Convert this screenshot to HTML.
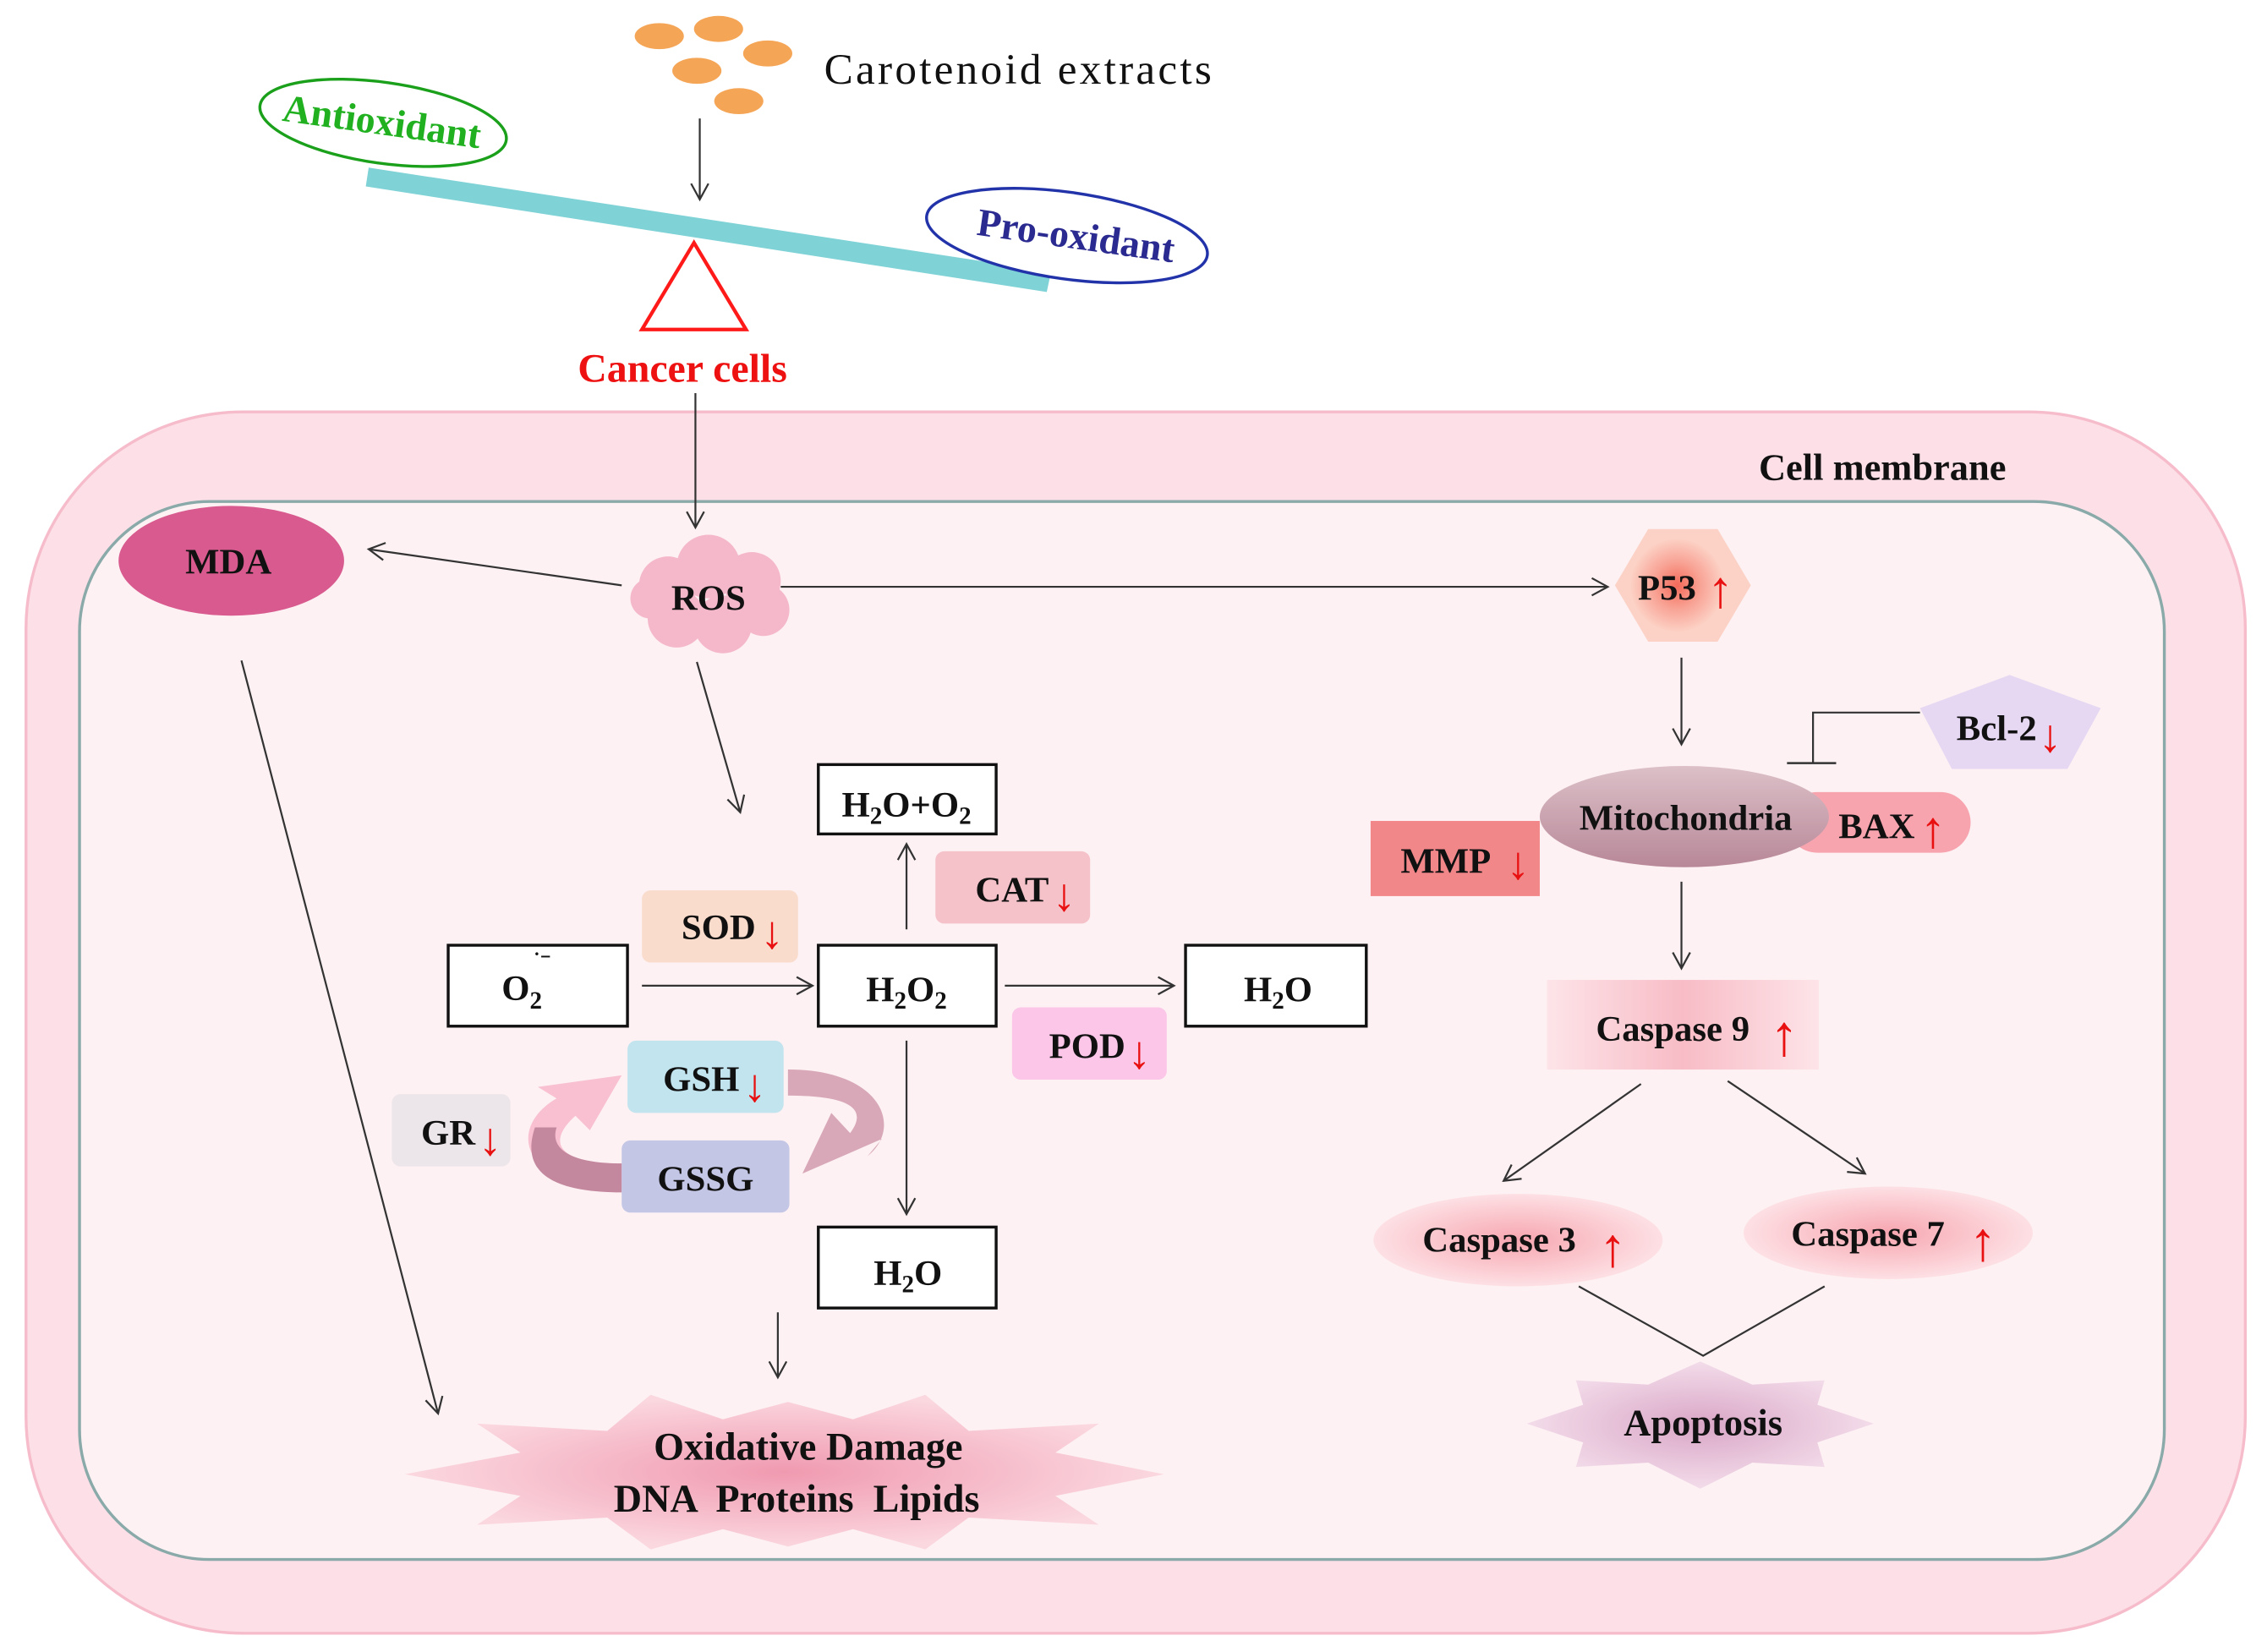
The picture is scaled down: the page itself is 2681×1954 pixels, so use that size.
<!DOCTYPE html>
<html><head><meta charset="utf-8"><style>
html,body{margin:0;padding:0;background:#fff}
svg{display:block}
text{font-family:"Liberation Serif",serif;font-weight:bold;fill:#111}
</style></head><body>
<svg width="2681" height="1954" viewBox="0 0 1568 1143" preserveAspectRatio="none" xmlns="http://www.w3.org/2000/svg">
<defs>
<marker id="a" markerWidth="14" markerHeight="14" refX="12" refY="7" orient="auto" markerUnits="userSpaceOnUse"><path d="M1,1 L12,7 L1,13" fill="none" stroke="#333" stroke-width="1.3"/></marker>
<radialGradient id="p53g"><stop offset="0" stop-color="#f36a5a"/><stop offset="0.5" stop-color="#f8a294"/><stop offset="1" stop-color="#fcd0c4"/></radialGradient>
<linearGradient id="mito" x1="0" y1="0" x2="0" y2="1"><stop offset="0" stop-color="#dcc0c8"/><stop offset="1" stop-color="#b88898"/></linearGradient>
<linearGradient id="c9" x1="0" y1="0" x2="1" y2="0"><stop offset="0" stop-color="#fde4e8"/><stop offset="0.5" stop-color="#f8bcc6"/><stop offset="1" stop-color="#fde4e8"/></linearGradient>
<radialGradient id="csp"><stop offset="0" stop-color="#f7a6b0"/><stop offset="1" stop-color="#fde0e4"/></radialGradient>
<radialGradient id="ox"><stop offset="0" stop-color="#f09ab0"/><stop offset="1" stop-color="#fbd8e0"/></radialGradient>
<radialGradient id="apo"><stop offset="0" stop-color="#d9a6c6"/><stop offset="1" stop-color="#f3dcea"/></radialGradient>
</defs>

<g fill="#f5a556">
<ellipse cx="456" cy="25" rx="17" ry="9"/><ellipse cx="497" cy="20" rx="17" ry="9"/><ellipse cx="531" cy="37" rx="17" ry="9"/>
<ellipse cx="482" cy="49" rx="17" ry="9"/><ellipse cx="511" cy="70" rx="17" ry="9"/>
</g>
<text x="570" y="58" font-size="30" style="font-weight:normal" textLength="268">Carotenoid extracts</text>
<line x1="484" y1="82" x2="484" y2="138" stroke="#333" stroke-width="1.3" marker-end="url(#a)"/>
<polygon points="255,116 727,188 724,202 253,129" fill="#7fd2d6"/>
<ellipse cx="265" cy="85" rx="86" ry="28" transform="rotate(8 265 85)" fill="#fff" stroke="#1aa01a" stroke-width="2"/>
<text x="263" y="93" font-size="27" text-anchor="middle" transform="rotate(8 263 93)" style="fill:#20b020">Antioxidant</text>
<ellipse cx="738" cy="163" rx="98" ry="30" transform="rotate(8 738 163)" fill="#fff" stroke="#2233aa" stroke-width="2"/>
<text x="743" y="172" font-size="27" text-anchor="middle" transform="rotate(8 743 172)" style="fill:#2a2a90">Pro-oxidant</text>
<polygon points="480,168 444,228 516,228" fill="#fff" stroke="#ff1a1a" stroke-width="2.5"/>
<text x="472" y="264" font-size="28" text-anchor="middle" style="fill:#ee1111">Cancer cells</text>

<rect x="18" y="285" width="1535" height="845" rx="150" fill="#fde0e7" stroke="#f6bccb" stroke-width="2"/>
<rect x="55" y="347" width="1442" height="732" rx="90" fill="#fdf1f3" stroke="#8aa9a9" stroke-width="2"/>
<text x="1302" y="332" font-size="26" text-anchor="middle">Cell membrane</text>
<line x1="481" y1="272" x2="481" y2="365" stroke="#333" stroke-width="1.3" marker-end="url(#a)"/>

<g fill="#f5b8cb">
<circle cx="462" cy="405" r="20"/><circle cx="490" cy="392" r="22"/><circle cx="520" cy="402" r="20"/>
<circle cx="528" cy="422" r="18"/><circle cx="500" cy="432" r="20"/><circle cx="468" cy="428" r="20"/><circle cx="450" cy="414" r="14"/>
</g>
<text x="490" y="422" font-size="25" text-anchor="middle">ROS</text>
<ellipse cx="160" cy="388" rx="78" ry="38" fill="#d85a8e"/>
<text x="158" y="397" font-size="25" text-anchor="middle">MDA</text>
<line x1="430" y1="405" x2="255" y2="380" stroke="#333" stroke-width="1.3" marker-end="url(#a)"/>
<line x1="540" y1="406" x2="1112" y2="406" stroke="#333" stroke-width="1.3" marker-end="url(#a)"/>
<line x1="482" y1="458" x2="512" y2="562" stroke="#333" stroke-width="1.3" marker-end="url(#a)"/>
<line x1="167" y1="457" x2="303" y2="978" stroke="#333" stroke-width="1.3" marker-end="url(#a)"/>

<polygon points="1140,366 1188,366 1211,405 1188,444 1140,444 1117,405" fill="#fcd2c6"/>
<circle cx="1160" cy="405" r="32" fill="url(#p53g)"/>
<text x="1153" y="415" font-size="25" text-anchor="middle">P53</text>
<text x="1181" y="420" font-size="36" style="fill:#e81010;font-weight:normal">↑</text>
<line x1="1163" y1="455" x2="1163" y2="515" stroke="#333" stroke-width="1.3" marker-end="url(#a)"/>
<polygon points="1390,467 1453,490 1430,532 1350,532 1328,490" fill="#e6d8f2"/>
<text x="1381" y="512" font-size="25" text-anchor="middle">Bcl-2</text>
<text x="1410" y="520" font-size="32" style="fill:#e81010;font-weight:normal">↓</text>
<polyline points="1328,493 1254,493 1254,528" fill="none" stroke="#333" stroke-width="1.3"/>
<line x1="1236" y1="528" x2="1270" y2="528" stroke="#333" stroke-width="1.5"/>
<rect x="1236" y="548" width="127" height="42" rx="21" fill="#f7a4ae"/>
<text x="1298" y="580" font-size="25" text-anchor="middle">BAX</text>
<text x="1328" y="586" font-size="36" style="fill:#e81010;font-weight:normal">↑</text>
<ellipse cx="1165" cy="565" rx="100" ry="35" fill="url(#mito)"/>
<text x="1166" y="574" font-size="25" text-anchor="middle">Mitochondria</text>
<rect x="948" y="568" width="117" height="52" fill="#f2878a"/>
<text x="1000" y="604" font-size="25" text-anchor="middle">MMP</text>
<text x="1042" y="608" font-size="32" style="fill:#e81010;font-weight:normal">↓</text>
<line x1="1163" y1="610" x2="1163" y2="670" stroke="#333" stroke-width="1.3" marker-end="url(#a)"/>
<rect x="1070" y="678" width="188" height="62" fill="url(#c9)"/>
<text x="1157" y="720" font-size="25" text-anchor="middle">Caspase 9</text>
<text x="1224" y="730" font-size="40" style="fill:#e81010;font-weight:normal">↑</text>
<line x1="1135" y1="750" x2="1040" y2="817" stroke="#333" stroke-width="1.3" marker-end="url(#a)"/>
<line x1="1195" y1="748" x2="1290" y2="812" stroke="#333" stroke-width="1.3" marker-end="url(#a)"/>
<ellipse cx="1050" cy="858" rx="100" ry="32" fill="url(#csp)"/>
<text x="1037" y="866" font-size="25" text-anchor="middle">Caspase 3</text>
<text x="1106" y="876" font-size="38" style="fill:#e81010;font-weight:normal">↑</text>
<ellipse cx="1306" cy="853" rx="100" ry="32" fill="url(#csp)"/>
<text x="1292" y="862" font-size="25" text-anchor="middle">Caspase 7</text>
<text x="1362" y="872" font-size="38" style="fill:#e81010;font-weight:normal">↑</text>
<polyline points="1092,890 1178,938 1262,890" fill="none" stroke="#333" stroke-width="1.3"/>
<polygon points="1056,985 1095,972 1090,955 1140,958 1176,942 1212,958 1262,955 1257,972 1296,985 1257,998 1262,1015 1212,1012 1176,1030 1140,1012 1090,1015 1095,998" fill="url(#apo)"/>
<text x="1178" y="993" font-size="26" text-anchor="middle">Apoptosis</text>

<g fill="#fff" stroke="#111" stroke-width="2">
<rect x="566" y="529" width="123" height="48"/>
<rect x="310" y="654" width="124" height="56"/>
<rect x="566" y="654" width="123" height="56"/>
<rect x="820" y="654" width="125" height="56"/>
<rect x="566" y="849" width="123" height="56"/>
</g>
<text x="627" y="565" font-size="25" text-anchor="middle">H<tspan font-size="17" dy="5">2</tspan><tspan dy="-5">O+O</tspan><tspan font-size="17" dy="5">2</tspan></text>
<text x="347" y="692" font-size="25">O<tspan font-size="17" dy="6">2</tspan></text>
<text x="369" y="669" font-size="14">˙⁻</text>
<text x="627" y="693" font-size="25" text-anchor="middle">H<tspan font-size="17" dy="5">2</tspan><tspan dy="-5">O</tspan><tspan font-size="17" dy="5">2</tspan></text>
<text x="884" y="693" font-size="25" text-anchor="middle">H<tspan font-size="17" dy="5">2</tspan><tspan dy="-5">O</tspan></text>
<text x="628" y="889" font-size="25" text-anchor="middle">H<tspan font-size="17" dy="5">2</tspan><tspan dy="-5">O</tspan></text>
<rect x="444" y="616" width="108" height="50" rx="6" fill="#fadccc"/>
<text x="497" y="650" font-size="25" text-anchor="middle">SOD</text>
<text x="526" y="656" font-size="32" style="fill:#e81010;font-weight:normal">↓</text>
<rect x="647" y="589" width="107" height="50" rx="6" fill="#f5c2ca"/>
<text x="700" y="624" font-size="25" text-anchor="middle">CAT</text>
<text x="728" y="630" font-size="32" style="fill:#e81010;font-weight:normal">↓</text>
<rect x="700" y="697" width="107" height="50" rx="6" fill="#fcc6e8"/>
<text x="752" y="732" font-size="25" text-anchor="middle">POD</text>
<text x="780" y="739" font-size="32" style="fill:#e81010;font-weight:normal">↓</text>
<line x1="444" y1="682" x2="562" y2="682" stroke="#333" stroke-width="1.3" marker-end="url(#a)"/>
<line x1="695" y1="682" x2="812" y2="682" stroke="#333" stroke-width="1.3" marker-end="url(#a)"/>
<line x1="627" y1="643" x2="627" y2="584" stroke="#333" stroke-width="1.3" marker-end="url(#a)"/>
<line x1="627" y1="720" x2="627" y2="840" stroke="#333" stroke-width="1.3" marker-end="url(#a)"/>

<path d="M545,740 C610,740 625,780 600,800 L610,788 L555,812 L575,770 L588,784 C600,768 590,758 545,758 Z" fill="#d8a8b8"/>
<path d="M430,822 C360,822 350,780 385,760 L372,752 L430,744 L408,782 L398,772 C378,790 385,805 430,805 Z" fill="#f8c0d0"/>
<path d="M370,780 C360,810 380,825 430,825 L430,805 C395,805 380,795 385,780 Z" fill="#c4889e"/>
<rect x="434" y="720" width="108" height="50" rx="6" fill="#c2e4ee"/>
<text x="485" y="755" font-size="25" text-anchor="middle">GSH</text>
<text x="514" y="762" font-size="32" style="fill:#e81010;font-weight:normal">↓</text>
<rect x="430" y="789" width="116" height="50" rx="6" fill="#c4c6e6"/>
<text x="488" y="824" font-size="25" text-anchor="middle">GSSG</text>
<rect x="271" y="757" width="82" height="50" rx="6" fill="#ece6ea"/>
<text x="310" y="792" font-size="25" text-anchor="middle">GR</text>
<text x="331" y="799" font-size="32" style="fill:#e81010;font-weight:normal">↓</text>

<line x1="538" y1="908" x2="538" y2="953" stroke="#333" stroke-width="1.3" marker-end="url(#a)"/>
<polygon points="280,1020 360,1005 330,985 420,990 450,965 500,982 545,970 590,982 640,965 670,990 760,985 730,1005 805,1020 730,1035 760,1055 670,1050 640,1072 590,1058 545,1070 500,1058 450,1072 420,1050 330,1055 360,1035" fill="url(#ox)"/>
<text x="559" y="1010" font-size="27" text-anchor="middle">Oxidative Damage</text>
<text x="551" y="1046" font-size="27" text-anchor="middle" xml:space="preserve">DNA  Proteins  Lipids</text>
</svg>
</body></html>
